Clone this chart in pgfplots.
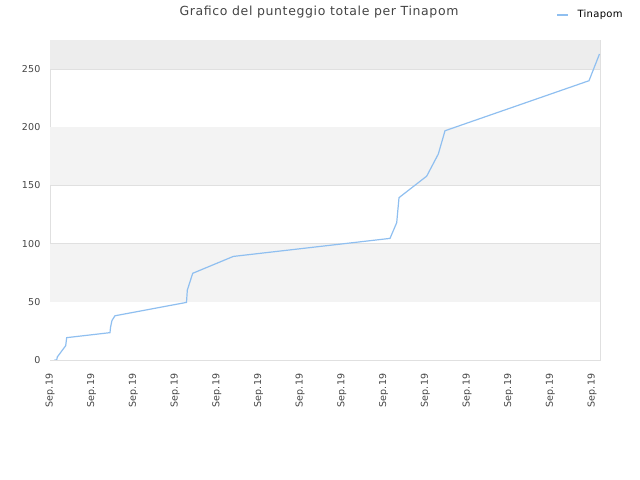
\documentclass[border=0pt]{standalone}
\usepackage{pgfplots}
\pgfplotsset{compat=1.18}
\usepackage{fontspec}
\setmainfont{DejaVu Sans}[LetterSpace=3]
\newfontfamily\titlefont{DejaVu Sans}[LetterSpace=5]
\definecolor{linec}{HTML}{8FBFF0}
\definecolor{bandA}{HTML}{F3F3F3}
\definecolor{bandB}{HTML}{EDEDED}
\definecolor{gridc}{HTML}{E0E0E0}
\definecolor{txt}{HTML}{444444}
\begin{document}
\begin{tikzpicture}[x=1bp,y=1bp]
\useasboundingbox (0,0) rectangle (640,480);
\begin{axis}[
  at={(50bp,120bp)}, anchor=south west,
  scale only axis, width=550bp, height=320bp,
  xmin=0, xmax=550, ymin=0, ymax=275,
  axis line style={draw=gridc},
  ytick={0,50,100,150,200,250},
  xtick={0,41.7,...,543},
  xticklabel={Sep.19},
  xticklabel style={rotate=90, anchor=east, font=\fontsize{9.5bp}{11bp}\selectfont, text=txt},
  yticklabel style={font=\fontsize{9.5bp}{11bp}\selectfont, text=txt},
  xticklabel shift=10bp,
  yticklabel shift=6bp,
  /pgf/number format/assume math mode=true,
  major tick length=0pt,
  ymajorgrids, grid style={draw=gridc, line width=0.6bp},
  clip=true,
]
\fill[white] (axis cs:0,0) rectangle (axis cs:550,50);
\fill[bandA] (axis cs:0,50) rectangle (axis cs:550,100);
\fill[bandA] (axis cs:0,150) rectangle (axis cs:550,200);
\fill[bandB] (axis cs:0,250) rectangle (axis cs:550,275);
\addplot[color=linec, line width=1.2bp, mark=none] coordinates {
(4.3,0) (6.7,0) (7.3,2.6) (15.7,12.3) (16.7,19.2) (60,23.5) (60.5,28) (62,34) (65,38)
(136.5,49.5) (137.3,60) (142.7,74.5) (183.3,89) (340,104.5) (346.7,118) (349,139.5)
(376.7,158) (388.3,177) (395,197) (539,240) (549.5,263)
};
\end{axis}
\node[text=txt, font=\titlefont\fontsize{12.5bp}{14bp}\selectfont] at (319,468) {Grafico del punteggio totale per Tinapom};
\draw[linec, line width=1.4bp] (557,465) -- (568,465);
\node[anchor=west, font=\fontsize{10bp}{12bp}\selectfont] at (574,465) {Tinapom};
\end{tikzpicture}
\end{document}
